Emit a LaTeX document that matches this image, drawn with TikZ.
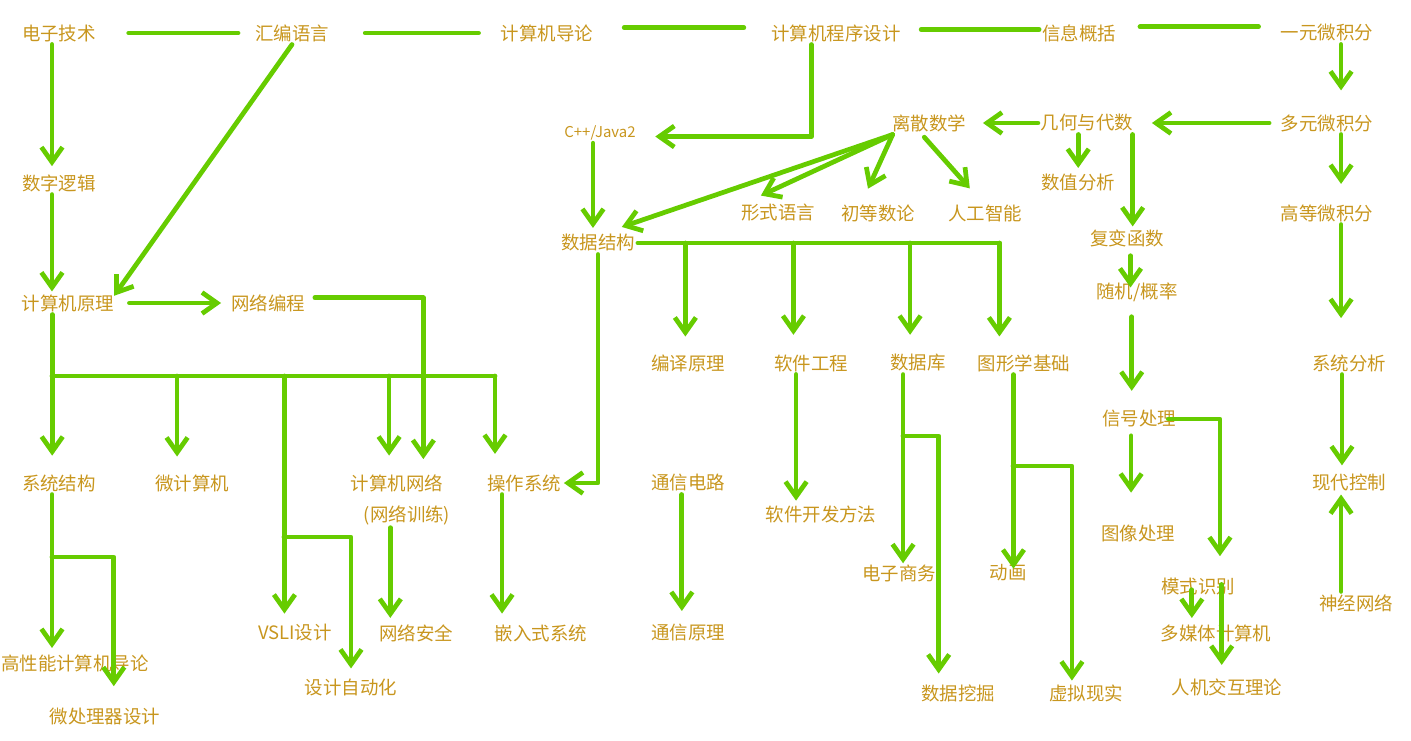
\documentclass[tikz,border=0pt]{standalone}
\usepackage{fontspec}
\usetikzlibrary{arrows.meta}
\newfontfamily\cjk{Noto Sans CJK SC}
\definecolor{lnk}{HTML}{66CC00}
\definecolor{txt}{HTML}{C8961E}

\tikzset{
  course/.style={text=txt, font=\cjk\fontsize{10.5}{12}\selectfont, inner sep=1.5pt},
  small/.style={course, font=\cjk\fontsize{8.5}{10}\selectfont},
  link/.style={draw=lnk, line width=2.7pt, line cap=round, line join=round},
  arr/.style={link, -{Straight Barb[length=8.5pt,width=12pt]}}
}

\begin{document}
\begin{tikzpicture}[x=0.02cm,y=-0.02cm]
\useasboundingbox (0,0) rectangle (1411,741);

% courses
\node[course] (dzjs) at (59,33) {电子技术};
\node[course] (hbyy) at (292,33) {汇编语言};
\node[course] (jsjdl) at (547,33) {计算机导论};
\node[course] (cxsj) at (836,33) {计算机程序设计};
\node[course] (xxgk) at (1079,33) {信息概括};
\node[course] (yywjf) at (1327,33) {一元微积分};
\node[course] (szlj) at (59,183) {数字逻辑};
\node[course] (jsjyl) at (68,303) {计算机原理};
\node[course] (wlbc) at (268,303) {网络编程};
\node[small] (cpp) at (600,133) {C++/Java2};
\node[course] (lssx) at (929,123) {离散数学};
\node[course] (jhds) at (1087,123) {几何与代数};
\node[course] (dywjf) at (1327,123) {多元微积分};
\node[course] (szfx) at (1078,183) {数值分析};
\node[course] (xsyy) at (778,213) {形式语言};
\node[course] (ddsl) at (878,213) {初等数论};
\node[course] (rgzn) at (985,213) {人工智能};
\node[course] (gdwjf) at (1327,213) {高等微积分};
\node[course] (sjjg) at (598,243) {数据结构};
\node[course] (fbhs) at (1127,238) {复变函数};
\node[course] (sjgl) at (1137,292) {随机/概率};
\node[course] (byyl) at (688,363) {编译原理};
\node[course] (rjgc) at (811,363) {软件工程};
\node[course] (sjk) at (918,363) {数据库};
\node[course] (txxjc) at (1024,363) {图形学基础};
\node[course] (xtfx) at (1349,363) {系统分析};
\node[course] (xhcl) at (1139,419) {信号处理};
\node[course] (xtjg) at (59,483) {系统结构};
\node[course] (wjsj) at (192,483) {微计算机};
\node[course] (jsjwl) at (397,483) {计算机网络};
\node[course] (wlxl) at (407,515) {(网络训练)};
\node[course] (czxt) at (524,483) {操作系统};
\node[course] (txdl) at (688,483) {通信电路};
\node[course] (rjkf) at (821,514) {软件开发方法};
\node[course] (xdkz) at (1349,483) {现代控制};
\node[course] (txcl) at (1138,534) {图像处理};
\node[course] (dzsw) at (899,573) {电子商务};
\node[course] (dh) at (1008,573) {动画};
\node[course] (mssb) at (1198,587) {模式识别};
\node[course] (sjwl) at (1356,603) {神经网络};
\node[course] (vlsi) at (295,633) {VSLI设计};
\node[course] (wlaq) at (416,633) {网络安全};
\node[course] (qrsxt) at (541,633) {嵌入式系统};
\node[course] (txyl) at (688,633) {通信原理};
\node[course] (dmt) at (1216,633) {多媒体计算机};
\node[course] (gxn) at (75,663) {高性能计算机导论};
\node[course] (sjzdh) at (351,687) {设计自动化};
\node[course] (sjwj) at (958,693) {数据挖掘};
\node[course] (xnxs) at (1086,693) {虚拟现实};
\node[course] (rjjh) at (1227,687) {人机交互理论};
\node[course] (wclq) at (105,717) {微处理器设计};

\coordinate (bus1) at (52,376);
\coordinate (br1) at (284,537);
\coordinate (br2) at (52,557);
\coordinate (br3) at (903,436);
\coordinate (br4) at (1013,466);

% top row
\draw[link, shorten <=17pt, shorten >=8pt] (dzjs.east) -- (hbyy.west);
\draw[link, shorten <=19pt, shorten >=11pt] (hbyy.east) -- (jsjdl.west);
\draw[link, shorten <=16pt, shorten >=14pt] ([yshift=3pt]jsjdl.east) -- ([yshift=3pt]cxsj.west);
\draw[link, shorten <=10pt] ([yshift=2pt]cxsj.east) -- ([yshift=2pt]xxgk.west);
\draw[link, shorten <=12pt, shorten >=11pt] ([yshift=3.5pt]xxgk.east) -- ([yshift=3.5pt]yywjf.west);

% left column
\draw[arr, shorten >=3pt] ([xshift=-4pt]dzjs.south) -- ([xshift=-4pt]dzjs.south |- szlj.north);
\draw[arr] ([xshift=-4pt]szlj.south) -- ([xshift=-4pt]szlj.south |- jsjyl.north);
\draw[arr, shorten >=-3pt] (hbyy.south) -- (jsjyl.north east);
\draw[arr, shorten <=7pt, shorten >=4pt] (jsjyl.east) -- (wlbc.west);
\draw[arr, shorten <=4pt, shorten >=7pt] ([yshift=3pt]wlbc.east) -| ([xshift=15pt]jsjwl.north);
\draw[arr, shorten >=9pt] ([xshift=-9pt]jsjyl.south) -- ([xshift=-9pt]jsjyl.south |- xtjg.north);
\draw[link] (bus1) -- ([xshift=-16.5pt]czxt.north |- bus1);
\draw[arr, shorten >=8.5pt] ([xshift=-8.5pt]wjsj.north |- bus1) -- ([xshift=-8.5pt]wjsj.north);
\draw[arr, shorten >=4.5pt] ([xshift=-6pt]vlsi.north |- bus1) -- ([xshift=-6pt]vlsi.north);
\draw[arr, shorten >=9pt] ([xshift=-4.5pt]jsjwl.north |- bus1) -- ([xshift=-4.5pt]jsjwl.north);
\draw[arr, shorten >=10pt] ([xshift=-16.5pt]czxt.north |- bus1) -- ([xshift=-16.5pt]czxt.north);
\draw[arr, shorten >=4pt] (br1) -| (sjzdh.north);
\draw[arr, shorten >=2pt] (br2 |- xtjg.south) -- (br2 |- gxn.north);
\draw[arr, shorten >=11pt] (br2) -| ([xshift=5pt]wclq.north);
\draw[arr, shorten >=2pt] ([xshift=-9.5pt]wlxl.south) -- ([xshift=-9.5pt]wlxl.south |- wlaq.north);
\draw[arr, shorten >=4.5pt] ([xshift=-12.5pt]czxt.south) -- ([xshift=-12.5pt]czxt.south |- qrsxt.north);
\draw[arr, shorten >=6pt] ([xshift=-3.5pt]txdl.south) -- ([xshift=-3.5pt]txdl.south |- txyl.north);

% middle
\draw[arr, shorten >=9.5pt] ([xshift=-14pt]cxsj.south) |- ([yshift=-2pt]cpp.east);
\draw[arr, shorten >=2pt] ([xshift=-4pt]cpp.south) -- ([xshift=-4pt]cpp.south |- sjjg.north);
\draw[arr, shorten >=8pt] ([xshift=2pt]lssx.south west) -- ([xshift=6pt]sjjg.north);
\draw[arr, shorten >=8pt] ([xshift=2pt]lssx.south west) -- ([xshift=-17pt]xsyy.north);
\draw[arr, shorten >=8pt] ([xshift=2pt]lssx.south west) -- ([xshift=-9pt]ddsl.north);
\draw[arr, shorten <=2pt, shorten >=10pt] ([xshift=-4pt]lssx.south) -- ([xshift=-2pt]rgzn.north);
\draw[arr, shorten >=8pt] (jhds.west) -- (lssx.east);
\draw[link] (sjjg.east) -- ([xshift=-14pt]txxjc.north |- sjjg.east);
\draw[arr, shorten >=8.5pt] ([xshift=-1.5pt]byyl.north |- sjjg.east) -- ([xshift=-1.5pt]byyl.north);
\draw[arr, shorten >=9.5pt] ([xshift=-10pt]rjgc.north |- sjjg.east) -- ([xshift=-10pt]rjgc.north);
\draw[arr, shorten >=9.5pt] ([xshift=-4.5pt]sjk.north |- sjjg.east) -- ([xshift=-4.5pt]sjk.north);
\draw[arr, shorten >=8.5pt] ([xshift=-14pt]txxjc.north |- sjjg.east) -- ([xshift=-14pt]txxjc.north);
\draw[arr] (sjjg.south) |- (czxt.east);
\draw[arr, shorten >=1pt] ([xshift=-8.5pt]rjgc.south) -- ([xshift=-8.5pt]rjgc.south |- rjkf.north);
\draw[arr, shorten >=-1pt] ([xshift=-8.5pt]sjk.south) -- ([xshift=-8.5pt]sjk.south |- dzsw.north);
\draw[arr, shorten >=4.5pt] (br3) -| ([xshift=-11pt]sjwj.north);
\draw[arr, shorten >=-4pt] ([xshift=-6pt]txxjc.south) -- ([xshift=-6pt]txxjc.south |- dh.north);
\draw[arr, shorten >=0.5pt] (br4) -| ([xshift=-8pt]xnxs.north);

% right side
\draw[arr, shorten <=5pt, shorten >=9pt] (dywjf.west) -- (jhds.east);
\draw[arr, shorten >=12pt] ([xshift=8pt]yywjf.south) -- ([xshift=8pt]yywjf.south |- dywjf.north);
\draw[arr, shorten >=10pt] ([xshift=8pt]dywjf.south) -- ([xshift=8pt]dywjf.south |- gdwjf.north);
\draw[arr, shorten >=19pt] ([xshift=8pt]gdwjf.south) -- ([xshift=8pt]gdwjf.south |- xtfx.north);
\draw[arr, shorten >=3.5pt] ([xshift=-4pt]xtfx.south) -- ([xshift=-4pt]xtfx.south |- xdkz.north);
\draw[arr] ([xshift=-8.5pt]sjwl.north) -- ([xshift=-8.5pt]sjwl.north |- xdkz.south);
\draw[arr, shorten >=2pt] ([xshift=-5pt]jhds.south) -- ([xshift=-5pt]jhds.south |- szfx.north);
\draw[arr] ([xshift=26pt]jhds.south) -- ([xshift=26pt]jhds.south |- fbhs.north);
\draw[arr, shorten <=3.5pt, shorten >=-4.5pt] ([xshift=2pt]fbhs.south) -- ([xshift=2pt]fbhs.south |- sjgl.north);
\draw[arr, shorten <=7pt, shorten >=9.5pt] ([xshift=-3pt]sjgl.south) -- ([xshift=-3pt]sjgl.south |- xhcl.north);
\draw[arr, shorten <=3pt, shorten >=17pt] ([xshift=-4.5pt]xhcl.south) -- ([xshift=-4.5pt]xhcl.south |- txcl.north);
\draw[arr, shorten <=-6pt, shorten >=11pt] (xhcl.east) -| ([xshift=12.5pt]mssb.north);
\draw[arr, shorten <=-5pt, shorten >=2pt] ([xshift=-3.5pt]mssb.south) -- ([xshift=-3.5pt]mssb.south |- dmt.north);
\draw[arr, shorten <=-8pt, shorten >=6pt] ([xshift=13.5pt]mssb.south) -- ([xshift=13.5pt]mssb.south |- rjjh.north);
\end{tikzpicture}
\end{document}
